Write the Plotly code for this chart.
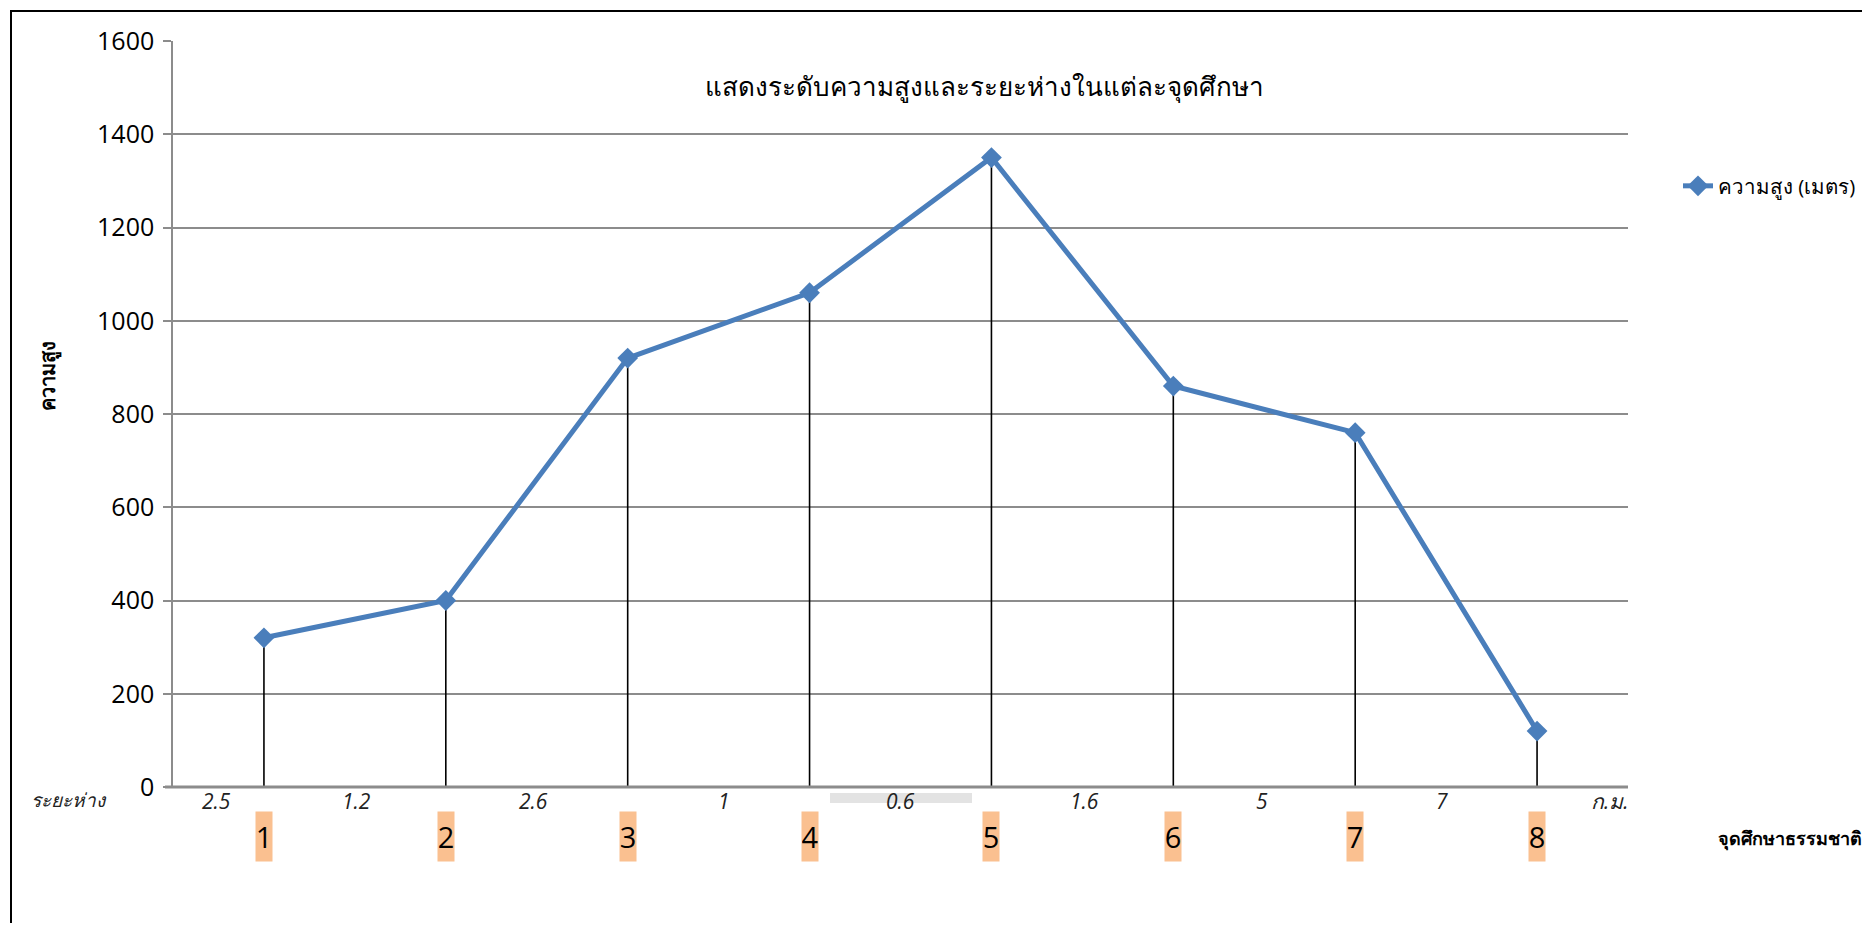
import plotly.graph_objects as go

# ---- data ----
stations = ["1", "2", "3", "4", "5", "6", "7", "8"]
heights = [320, 400, 920, 1060, 1350, 860, 760, 120]
distance_labels = ["2.5", "1.2", "2.6", "1", "0.6", "1.6", "5", "7", "ก.ม."]
distance_pos = [-0.26, 0.51, 1.48, 2.53, 3.5, 4.51, 5.49, 6.48, 7.4]
y_ticks = [0, 200, 400, 600, 800, 1000, 1200, 1400, 1600]

title_text = "แสดงระดับความสูงและระยะห่างในแต่ละจุดศึกษา"
series_name = "ความสูง (เมตร)"
y_title = "ความสูง"
x_title = "จุดศึกษาธรรมชาติ"
dist_title = "ระยะห่าง"

OFF = 8  # default body margin of the page
W, H = 1870 - OFF, 931 - 2 * OFF
PL, PR, PT, PB = 173, 1628, 41, 787   # plot area in page pixels
L, T = PL - OFF, PT - OFF
pw, ph = PR - PL, PB - PT
R, B = W - L - pw, H - T - ph

def px_x(p):
    return (p - PL) / pw

def px_y(p):
    return (PB - p) / ph

xs = list(range(len(stations)))
FONT = "Open Sans"

fig = go.Figure()

# drop lines
dx, dy = [], []
for x, v in zip(xs, heights):
    dx += [x, x, None]
    dy += [0, v, None]
fig.add_trace(go.Scatter(x=dx, y=dy, mode="lines",
                         line=dict(color="black", width=1.6),
                         showlegend=False, hoverinfo="skip"))

fig.add_trace(go.Scatter(x=xs, y=heights, mode="lines+markers", name=series_name,
                         line=dict(color="#4A7EBB", width=5),
                         marker=dict(symbol="diamond", size=16, color="#4A7EBB")))

fig.update_layout(
    width=W, height=H,
    margin=dict(l=L, r=R, t=T, b=B, pad=0, autoexpand=False),
    paper_bgcolor="white", plot_bgcolor="white",
    font=dict(family=FONT, color="black"),
    showlegend=True,
    legend=dict(x=px_x(1678), y=px_y(186), xanchor="left", yanchor="middle",
                font=dict(size=20.5, family=FONT, color="black"),
                bgcolor="rgba(0,0,0,0)", itemwidth=30, tracegroupgap=0),
    xaxis=dict(range=[-0.5, 7.5], showgrid=False, zeroline=False,
               showticklabels=False, ticks="", showline=False, fixedrange=True),
    yaxis=dict(range=[0, 1600], tickvals=y_ticks, ticktext=[str(v) for v in y_ticks],
               showgrid=True, gridcolor="#8C8C8C", gridwidth=1.5,
               zeroline=False, showline=True, linecolor="#8C8C8C", linewidth=1.5,
               ticks="outside", ticklen=8, tickcolor="#8C8C8C", tickwidth=1.5,
               tickfont=dict(size=25, family=FONT, color="black"), ticklabelstandoff=4),
)

shapes = []
shapes.append(dict(type="line", xref="paper", yref="paper",
                   x0=px_x(165), x1=1, y0=0, y1=0,
                   line=dict(color="#8C8C8C", width=3), layer="above"))
shapes.append(dict(type="rect", xref="paper", yref="paper",
                   x0=px_x(11), x1=1.4, y0=-0.4, y1=px_y(11),
                   line=dict(color="black", width=2), fillcolor="rgba(0,0,0,0)"))
shapes.append(dict(type="rect", xref="paper", yref="paper",
                   x0=px_x(830), x1=px_x(972), y0=px_y(803), y1=px_y(793),
                   line=dict(width=0), fillcolor="rgba(215,215,215,0.7)", layer="below"))
fig.update_layout(shapes=shapes)

ann = []
ann.append(dict(text=title_text, xref="paper", yref="paper", x=px_x(984), y=px_y(86),
                showarrow=False, font=dict(size=26, family=FONT, color="black"),
                xanchor="center", yanchor="middle"))
ann.append(dict(text="<b>" + y_title + "</b>", xref="paper", yref="paper",
                x=px_x(48), y=px_y(376), textangle=-90, showarrow=False,
                font=dict(size=20, family=FONT, color="black"),
                xanchor="center", yanchor="middle"))
ann.append(dict(text="<i>" + dist_title + "</i>", xref="paper", yref="paper",
                x=px_x(69), y=px_y(800), showarrow=False,
                font=dict(size=19, family=FONT, color="#222222"),
                xanchor="center", yanchor="middle"))
for p, t in zip(distance_pos, distance_labels):
    ann.append(dict(text="<i>" + t + "</i>", xref="x", yref="paper",
                    x=p, y=px_y(801), showarrow=False,
                    font=dict(size=21, family=FONT, color="#222222"),
                    xanchor="center", yanchor="middle"))
for x, s in zip(xs, stations):
    ann.append(dict(text=s, xref="x", yref="paper", x=x, y=px_y(836),
                    showarrow=False, bgcolor="#FAC090", borderpad=0,
                    width=16, height=49, align="center", valign="middle",
                    font=dict(size=29, family=FONT, color="black"),
                    xanchor="center", yanchor="middle"))
ann.append(dict(text="<b>" + x_title + "</b>", xref="paper", yref="paper",
                x=px_x(1716), y=px_y(838), showarrow=False,
                font=dict(size=18, family=FONT, color="black"),
                xanchor="left", yanchor="middle"))
fig.update_layout(annotations=ann)

fig.write_html("out.html")
